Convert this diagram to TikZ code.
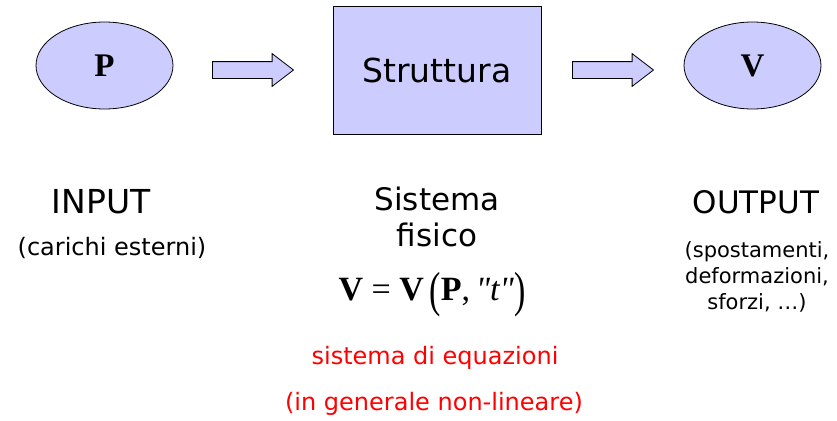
\documentclass[tikz,border=0pt]{standalone}
\usepackage{fontspec}
\setmainfont{DejaVu Sans}
\newfontfamily\timesfont{Liberation Serif}
\usepackage{xcolor}
\usetikzlibrary{shapes.geometric, shapes.arrows, positioning}

\definecolor{lavender}{RGB}{204,204,255}

\begin{document}
\begin{tikzpicture}[
    x=1pt, y=-1pt,
    blob/.style={draw, ellipse, fill=lavender, line width=0.8pt, minimum width=137pt, minimum height=87pt, font=\fontsize{33}{38}\selectfont\timesfont\bfseries},
    sysbox/.style={draw, rectangle, fill=lavender, line width=0.8pt, minimum width=208pt, minimum height=128pt, font=\fontsize{33}{38}\selectfont},
    flow/.style={draw, single arrow, fill=lavender, line width=0.8pt, minimum height=81pt, minimum width=32pt, single arrow head extend=8pt, single arrow tip angle=75, inner xsep=0pt, inner ysep=8pt},
    big/.style={anchor=base, font=\fontsize{#1}{37}\selectfont},
    big/.default=31,
    note/.style={anchor=base, font=\fontsize{#1}{26}\selectfont},
    note/.default=21,
    remark/.style={anchor=base, text=red, font=\fontsize{24}{30}\selectfont},
  ]
  \useasboundingbox (0,0) rectangle (837,420);

  % Top row: input -> structure -> output
  \node[blob] (load) at (104.5,65.5) {P};
  \node[flow] (arrin) at (247.5,70) {};
  \node[sysbox] (struct) at (437,70) {Struttura};
  \node[flow] (arrout) at (607.5,70) {};
  \node[blob] (resp) at (752.5,65.5) {V};

  % Input column
  \node[big=33] (input) at (101,213) {INPUT};
  \node[note=24] (inputnote) at (112,255) {(carichi esterni)};

  % Middle column
  \node[big] (sistema) at (437,210) {Sistema};
  \node[big] (fisico) at (437,246) {fisico};
  \node[anchor=base, font=\fontsize{34}{40}\selectfont\timesfont] (eqn) at (432,300)
    {\textbf{V} = \textbf{V}\,\raisebox{-0.2em}{\scalebox{1}[1.45]{(}}\textbf{P},\,\textit{"t"}\raisebox{-0.2em}{\scalebox{1}[1.45]{)}}};
  \node[remark] (eqnote) at (435,364) {sistema di equazioni};
  \node[remark] (eqnote2) at (434,410) {(in generale non-lineare)};

  % Output column
  \node[big] (output) at (756,213) {OUTPUT};
  \node[note] (outnote) at (757,257) {(spostamenti,};
  \node[note] (outnote2) at (757,283) {deformazioni,};
  \node[note] (outnote3) at (757,309) {sforzi, …)};

\end{tikzpicture}
\end{document}
